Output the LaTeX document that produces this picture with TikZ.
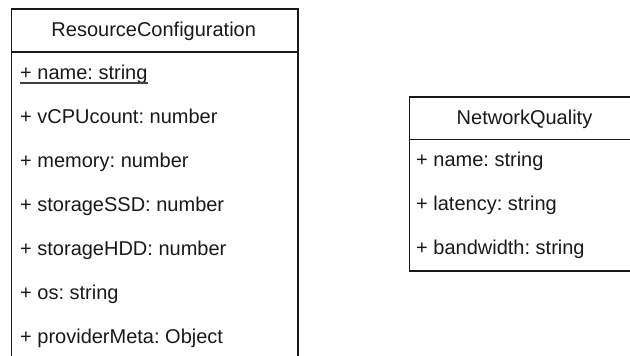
\documentclass[tikz,border=0pt]{standalone}
\usepackage{fontspec}
\setmainfont{Liberation Sans}
\frenchspacing
\begin{document}
\begin{tikzpicture}[x=1pt,y=-1pt,
  umlbox/.style={draw=black!90, line width=1.6pt, rectangle, inner sep=0pt, anchor=north west},
  umltitle/.style={anchor=base, inner sep=0pt, text=black!90, font=\fontsize{20}{24}\selectfont},
  umlattr/.style={anchor=base west, inner sep=0pt, text=black!90, font=\fontsize{20}{24}\selectfont},
  umlsep/.style={draw=black!90, line width=1.6pt},
  umlunder/.style={draw=black!75, line width=1.3pt}]
\useasboundingbox (0,0) rectangle (630,356);
\clip (0,0) rectangle (630,356);
% ResourceConfiguration
\node[umlbox, minimum width=286.5pt, minimum height=349.6pt] (rc) at (10.5,8) {};
\coordinate (rcsl) at (10.5,51.7);
\coordinate (rcsr) at (297,51.7);
\draw[umlsep] (rcsl) -- (rcsr);
\node[umltitle] (rct) at (153.75,36) {ResourceConfiguration};
\node[umlattr] (rc1) at (20,79.5) {+ name: string};
\node[umlattr] (rc2) at (20,123.5) {+ vCPUcount: number};
\node[umlattr] (rc3) at (20,167.5) {+ memory: number};
\node[umlattr] (rc4) at (20,211.5) {+ storageSSD: number};
\node[umlattr] (rc5) at (20,255.5) {+ storageHDD: number};
\node[umlattr] (rc6) at (20,299.5) {+ os: string};
\node[umlattr] (rc7) at (20,343.5) {+ providerMeta: Object};
\draw[umlunder] ([yshift=-3.6pt]rc1.base west) -- ([yshift=-3.6pt]rc1.base east);
% NetworkQuality
\node[umlbox, minimum width=232pt, minimum height=174pt] (nq) at (408.5,96) {};
\coordinate (nqsl) at (408.5,139.5);
\coordinate (nqsr) at (640.5,139.5);
\draw[umlsep] (nqsl) -- (nqsr);
\node[umltitle] (nqt) at (524.5,124.3) {NetworkQuality};
\node[umlattr] (nq1) at (416,166) {+ name: string};
\node[umlattr] (nq2) at (416,210) {+ latency: string};
\node[umlattr] (nq3) at (416,254) {+ bandwidth: string};
\end{tikzpicture}
\end{document}
